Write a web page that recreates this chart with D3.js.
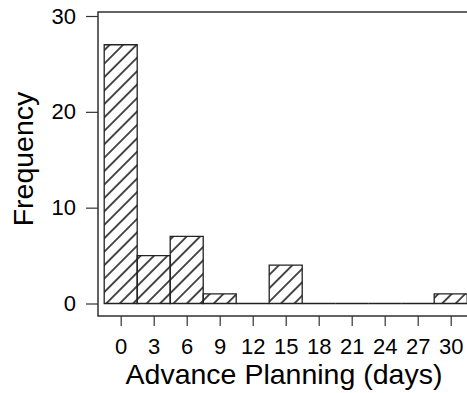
<!DOCTYPE html>
<html>
<head>
<meta charset="utf-8">
<script src="https://cdn.jsdelivr.net/npm/d3@7"></script>
<style>
  body { margin: 0; background: #fff; }
  svg text { font-family: "Liberation Sans", Arial, sans-serif; fill: #000; }
</style>
</head>
<body>
<svg id="chart"></svg>
<script>
// histogram bins (days), 3 days wide, centred on the tick values
const binCenters = [0, 3, 6, 9, 12, 15, 18, 21, 24, 27, 30];
const counts = [27, 5, 7, 1, 0, 4, 0, 0, 0, 0, 1];
const xTicks = [0, 3, 6, 9, 12, 15, 18, 21, 24, 27, 30];
const yTicks = [0, 10, 20, 30];

function drawChart(){
    const width = 467, height = 393;
    const binWidth = 3;

    const svg = d3.select("#chart")
                .attr("width", width)
                .attr("height", height);

    const x = d3.scaleLinear().domain([0, 30]).range([120.7, 450.7]);
    const y = d3.scaleLinear().domain([0, 30]).range([303.5, 16]);

    // hatch fill
    const defs = svg.append("defs");
    defs.append("pattern")
        .attr("id", "hatch")
        .attr("patternUnits", "userSpaceOnUse")
        .attr("width", 9.5)
        .attr("height", 9.5)
        .attr("patternTransform", "rotate(45)")
        .append("line")
        .attr("x1", 4.75).attr("y1", 0)
        .attr("x2", 4.75).attr("y2", 9.5)
        .style("stroke", "#000")
        .style("stroke-width", 1.4);

    // frame (open past the right edge of the picture)
    svg.append("rect")
        .attr("x", 98)
        .attr("y", 12)
        .attr("width", 372)
        .attr("height", 304)
        .attr("fill", "none")
        .style("stroke", "#222")
        .style("stroke-width", 1.4);

    // bars, drawn as closed paths so empty bins still leave a base line
    svg.append("g")
        .selectAll("path")
        .data(binCenters)
        .join("path")
        .attr("d", (d, i) => {
            const p = d3.path();
            const x0 = x(d - binWidth / 2), x1 = x(d + binWidth / 2);
            p.moveTo(x0, y(0));
            p.lineTo(x0, y(counts[i]));
            p.lineTo(x1, y(counts[i]));
            p.lineTo(x1, y(0));
            p.closePath();
            return p.toString();
        })
        .attr("fill", "url(#hatch)")
        .style("stroke", "#222")
        .style("stroke-width", 1.3);

    // y axis
    const gy = svg.append("g")
        .attr("transform", "translate(98,0)")
        .call(d3.axisLeft(y).tickValues(yTicks).tickSize(12).tickPadding(10));
    gy.select(".domain").remove();
    gy.selectAll(".tick line").style("stroke", "#333").style("stroke-width", 1.2);
    gy.selectAll("text").style("font-size", "22px");

    // x axis
    const gx = svg.append("g")
        .attr("transform", "translate(0,316)")
        .call(d3.axisBottom(x).tickValues(xTicks).tickSize(10).tickPadding(12));
    gx.select(".domain").remove();
    gx.selectAll(".tick line").style("stroke", "#333").style("stroke-width", 1.2);
    gx.selectAll("text").style("font-size", "22px");

    // axis titles
    svg.append("text")
        .attr("x", 284)
        .attr("y", 384)
        .attr("text-anchor", "middle")
        .style("font-size", "28.5px")
        .text("Advance Planning (days)");

    svg.append("text")
        .attr("transform", "translate(33,159) rotate(-90)")
        .attr("text-anchor", "middle")
        .style("font-size", "28.5px")
        .text("Frequency");
}

drawChart();
</script>
</body>
</html>
